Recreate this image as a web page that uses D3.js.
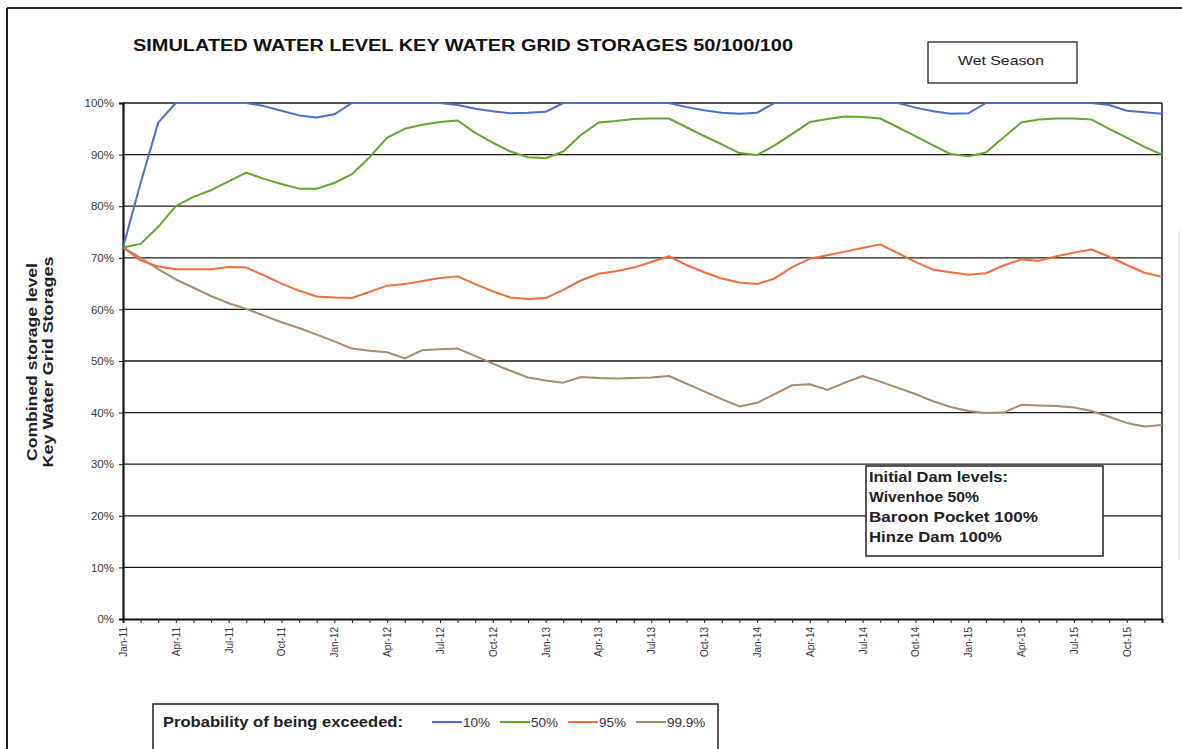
<!DOCTYPE html>
<html>

<head>
  <title>Simulated Water Level</title>
  <script src="https://cdn.jsdelivr.net/npm/d3@7/dist/d3.min.js"></script>
  <style>
    body { margin: 0; background: #fff; }
    text { font-family: Arial, "Liberation Sans", sans-serif; }
  </style>
</head>

<body>
  <script>

    // monthly values, Jan-11 .. Dec-15 (60 months), % of combined storage
    const p10 = [72, 84.5, 96.2, 100, 100, 100, 100, 100, 99.4, 98.5, 97.6, 97.2,
      97.8, 100, 100, 100, 100, 100, 100, 99.6, 98.9, 98.4, 98, 98.1,
      98.3, 100, 100, 100, 100, 100, 100, 100, 99.2, 98.6, 98.1, 97.9,
      98.1, 100, 100, 100, 100, 100, 100, 100, 100, 99.1, 98.4, 97.9,
      98, 100, 100, 100, 100, 100, 100, 100, 99.6, 98.5, 98.2, 97.9];

    const p50 = [72, 72.7, 76, 80, 81.8, 83.1, 84.8, 86.5, 85.3, 84.3, 83.4, 83.4,
      84.5, 86.2, 89.5, 93.3, 95, 95.8, 96.3, 96.6, 94.2, 92.3, 90.6, 89.5,
      89.3, 90.6, 93.8, 96.2, 96.5, 96.9, 97, 97, 95.3, 93.6, 92, 90.3,
      89.9, 91.8, 94, 96.3, 96.9, 97.4, 97.3, 97, 95.3, 93.6, 91.8, 90.1,
      89.7, 90.4, 93.3, 96.2, 96.8, 97, 97, 96.8, 95, 93.3, 91.5, 90];

    const p95 = [72, 69.5, 68.3, 67.8, 67.8, 67.8, 68.2, 68.1, 66.6, 65, 63.6, 62.5,
      62.3, 62.2, 63.4, 64.6, 64.9, 65.5, 66.1, 66.4, 64.9, 63.5, 62.3, 62,
      62.2, 63.8, 65.6, 66.9, 67.4, 68.1, 69.2, 70.3, 68.6, 67.2, 66, 65.2,
      64.9, 66, 68.2, 69.8, 70.5, 71.2, 71.9, 72.6, 70.9, 69.2, 67.7, 67.2,
      66.7, 67, 68.5, 69.7, 69.4, 70.3, 71, 71.6, 70.2, 68.6, 67.1, 66.3];

    const p999 = [72, 70, 67.8, 65.8, 64.2, 62.6, 61.2, 60.1, 58.8, 57.5, 56.4, 55.1,
      53.8, 52.4, 52, 51.7, 50.5, 52.1, 52.3, 52.4, 51, 49.5, 48.1, 46.8,
      46.2, 45.8, 46.9, 46.7, 46.6, 46.7, 46.8, 47.1, 45.6, 44.1, 42.6, 41.2,
      41.9, 43.6, 45.3, 45.5, 44.4, 45.8, 47.1, 46, 44.8, 43.6, 42.2, 41.1,
      40.3, 39.9, 40, 41.5, 41.4, 41.3, 41, 40.3, 39.2, 38, 37.3, 37.6];

    const seriesNames = ["10%", "50%", "95%", "99.9%"];
    const seriesColors = ["#4a6fd0", "#62a82c", "#f26c3c", "#a48c6c"];

    const quarterLabels = ["Jan-11", "Apr-11", "Jul-11", "Oct-11",
      "Jan-12", "Apr-12", "Jul-12", "Oct-12",
      "Jan-13", "Apr-13", "Jul-13", "Oct-13",
      "Jan-14", "Apr-14", "Jul-14", "Oct-14",
      "Jan-15", "Apr-15", "Jul-15", "Oct-15"];

    const yTicks = [0, 10, 20, 30, 40, 50, 60, 70, 80, 90, 100];

    const noteLines = ["Initial Dam levels:", "Wivenhoe 50%", "Baroon Pocket 100%", "Hinze Dam 100%"];

    const width = 1182;
    const height = 749;

    const svg = d3.select("body").append("svg")
      .attr("width", width)
      .attr("height", height);

    // outer frame (only top and left show in the scan)
    svg.append("line").attr("x1", 7).attr("y1", 8).attr("x2", 1182).attr("y2", 8)
      .style("stroke", "#222").style("stroke-width", 2);
    svg.append("line").attr("x1", 7).attr("y1", 8).attr("x2", 7).attr("y2", 749)
      .style("stroke", "#222").style("stroke-width", 2);
    svg.append("line").attr("x1", 1179).attr("y1", 230).attr("x2", 1179).attr("y2", 560)
      .style("stroke", "#ddd").style("stroke-width", 1);

    const x = d3.scaleLinear().domain([0, 59]).range([123, 1162]);
    const y = d3.scaleLinear().domain([0, 100]).range([619, 103]);

    // title
    svg.append("text")
      .attr("x", 133).attr("y", 51)
      .attr("textLength", 660).attr("lengthAdjust", "spacingAndGlyphs")
      .style("font-size", "16px").style("font-weight", "bold").style("fill", "#111")
      .text("SIMULATED WATER LEVEL KEY WATER GRID STORAGES 50/100/100");

    // wet season box
    svg.append("rect").attr("x", 928).attr("y", 42).attr("width", 149).attr("height", 41)
      .style("fill", "#fff").style("stroke", "#222").style("stroke-width", 1.3);
    svg.append("text").attr("x", 1001).attr("y", 65)
      .attr("textLength", 86).attr("lengthAdjust", "spacingAndGlyphs")
      .style("text-anchor", "middle").style("font-size", "13px").style("fill", "#222")
      .text("Wet Season");

    // gridlines
    svg.selectAll("line.grid")
      .data(yTicks.filter(d => d > 0))
      .enter()
      .append("line")
      .attr("class", "grid")
      .attr("x1", x(0)).attr("x2", x(59))
      .attr("y1", d => y(d)).attr("y2", d => y(d))
      .style("stroke", "#1a1a1a")
      .style("stroke-width", 1.3);

    // right border
    svg.append("line").attr("x1", x(59)).attr("x2", x(59)).attr("y1", y(100)).attr("y2", y(0))
      .style("stroke", "#1a1a1a").style("stroke-width", 1.5);

    // y axis
    const yAxis = svg.append("g")
      .attr("transform", `translate(${x(0)},0)`)
      .call(d3.axisLeft(y).tickValues(yTicks).tickFormat(d => d + "%").tickSize(4).tickPadding(5));
    yAxis.select(".domain").style("stroke", "#111").style("stroke-width", 2.2);
    yAxis.selectAll(".tick line").style("stroke", "#111");
    yAxis.selectAll("text").style("font-size", "11.5px").style("fill", "#3a3a3a")
      .style("font-family", "Arial, 'Liberation Sans', sans-serif");

    // x axis, a tick every month, label every quarter
    const xAxis = svg.append("g")
      .attr("transform", `translate(0,${y(0)})`)
      .call(d3.axisBottom(x).tickValues(d3.range(0, 60))
        .tickFormat(i => i % 3 === 0 ? quarterLabels[i / 3] : "").tickSize(4));
    xAxis.select(".domain").style("stroke", "#111").style("stroke-width", 2);
    xAxis.selectAll(".tick line").style("stroke", "#222");
    xAxis.selectAll("text")
      .attr("transform", "rotate(-90)")
      .attr("x", -8).attr("y", 0).attr("dy", "0.35em")
      .style("text-anchor", "end")
      .style("font-size", "10px").style("fill", "#3a3a3a")
      .style("font-family", "Arial, 'Liberation Sans', sans-serif");

    // y axis title
    const yt = svg.append("text")
      .attr("transform", "translate(37,362) rotate(-90)")
      .style("text-anchor", "middle").style("font-size", "14px").style("font-weight", "bold")
      .style("fill", "#222");
    yt.append("tspan").attr("x", 0).attr("dy", 0)
      .attr("textLength", 198).attr("lengthAdjust", "spacingAndGlyphs")
      .text("Combined storage level");
    yt.append("tspan").attr("x", 0).attr("dy", 16)
      .attr("textLength", 211).attr("lengthAdjust", "spacingAndGlyphs")
      .text("Key Water Grid Storages");

    // series lines
    const line = d3.line()
      .x((d, i) => x(i))
      .y(d => y(d));

    const allSeries = [p10, p50, p95, p999];
    svg.selectAll("path.series")
      .data(allSeries.slice().reverse())
      .enter()
      .append("path")
      .attr("class", "series")
      .attr("d", line)
      .style("fill", "none")
      .style("stroke", (d, i) => seriesColors[3 - i])
      .style("stroke-width", 2)
      .style("stroke-linejoin", "round");

    // initial dam level note
    const noteLen = [139, 110, 169, 133];
    svg.append("rect").attr("x", 866).attr("y", 466).attr("width", 237).attr("height", 90)
      .style("fill", "#fff").style("stroke", "#222").style("stroke-width", 1.5);
    svg.selectAll("text.note")
      .data(noteLines)
      .enter()
      .append("text")
      .attr("class", "note")
      .attr("x", 869)
      .attr("y", (d, i) => 482 + i * 20)
      .attr("textLength", (d, i) => noteLen[i]).attr("lengthAdjust", "spacingAndGlyphs")
      .style("font-size", "15px").style("font-weight", "bold").style("fill", "#222")
      .text(d => d);

    // legend
    svg.append("rect").attr("x", 153).attr("y", 704).attr("width", 565).attr("height", 60)
      .style("fill", "#fff").style("stroke", "#222").style("stroke-width", 1.5);
    svg.append("text").attr("x", 163).attr("y", 727)
      .attr("textLength", 240).attr("lengthAdjust", "spacingAndGlyphs")
      .style("font-size", "14px").style("font-weight", "bold").style("fill", "#222")
      .text("Probability of being exceeded:");

    const legendX = [432, 500, 568, 636];
    const leg = svg.selectAll("g.leg")
      .data(seriesNames)
      .enter()
      .append("g")
      .attr("class", "leg")
      .attr("transform", (d, i) => `translate(${legendX[i]},0)`);
    leg.append("line")
      .attr("x1", 0).attr("x2", 30).attr("y1", 722).attr("y2", 722)
      .style("stroke", (d, i) => seriesColors[i]).style("stroke-width", 2);
    leg.append("text")
      .attr("x", 31).attr("y", 727)
      .style("font-size", "13.5px").style("fill", "#333")
      .text(d => d);

  </script>
</body>

</html>
